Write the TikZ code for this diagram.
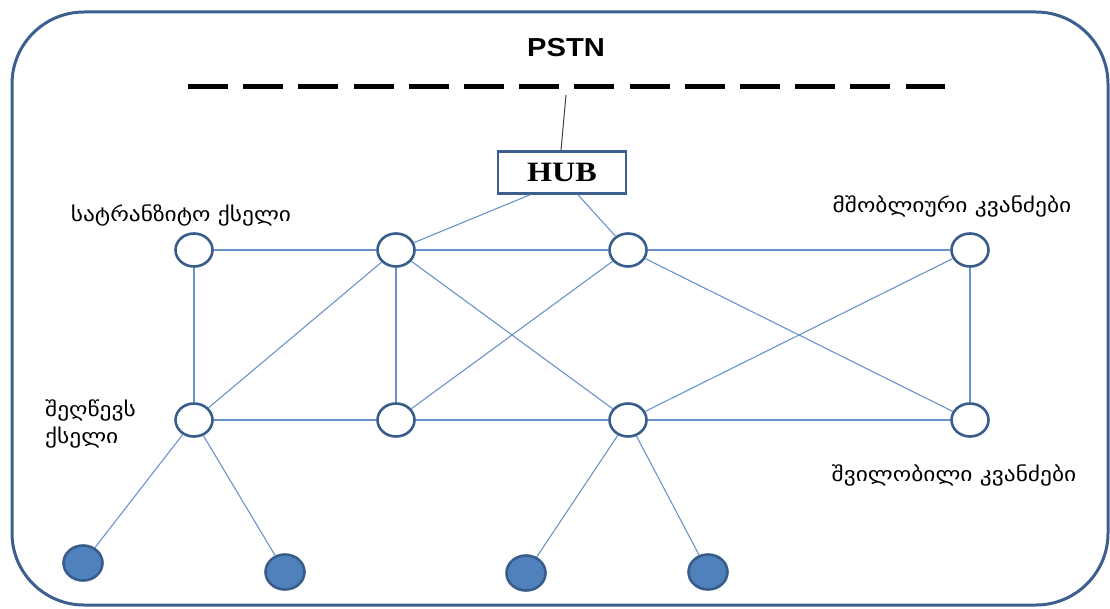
\documentclass[tikz,border=0pt]{standalone}
\usepackage{fontspec}
\setmainfont{Liberation Serif}
\setsansfont{Liberation Sans}
\newfontfamily\geo{DejaVu Sans}
\usetikzlibrary{shapes.geometric,calc}
\definecolor{frameblue}{HTML}{3D5F8F}
\definecolor{nodeline}{HTML}{385D8A}
\definecolor{nodefill}{HTML}{4F81BD}
\definecolor{linkblue}{HTML}{6A93CC}
\tikzset{
  hollow/.style={ellipse, draw=nodeline, line width=2.6pt, fill=white, minimum width=37pt, minimum height=33pt, inner sep=0pt},
  solid node/.style={ellipse, draw=nodeline, line width=2.6pt, fill=nodefill, minimum width=39pt, minimum height=35pt, inner sep=0pt},
  link/.style={draw=linkblue, line width=1.1pt},
  geolabel/.style={font=\geo\fontsize{20}{28}\selectfont, inner sep=0pt},
}
\newcommand{\geowide}[1]{\scalebox{1.17}[1]{#1}}
\begin{document}
\begin{tikzpicture}[x=1pt,y=-1pt]
\useasboundingbox (0,0) rectangle (1110,609);
% outer frame
\draw[frameblue, line width=3pt, rounded corners=72pt] (12,12) rectangle (1108,605);
% PSTN bus
\node[font=\sffamily\bfseries\fontsize{26}{28}\selectfont, inner sep=0pt] (pstn) at (566,48) {\scalebox{1.12}[1]{PSTN}};
\coordinate (busl) at (188,87);
\coordinate (busr) at (945,87);
\draw[black, line width=5pt, dash pattern=on 40pt off 15.2pt] (busl) -- (busr);
% hub
\node[draw=frameblue, line width=2.6pt, fill=white, minimum width=128pt, minimum height=42pt, inner sep=0pt, font=\bfseries\fontsize{28}{30}\selectfont] (hub) at (562,172.5) {\scalebox{1.15}[1]{HUB}};
\coordinate (tap) at (566,95);
\draw[black!75, line width=1pt] (tap) -- ($(hub.north)+(-1,0)$);
% nodes
\node[hollow] (a1) at (194,250) {};
\node[hollow] (a2) at (396,250) {};
\node[hollow] (a3) at (628,250) {};
\node[hollow] (a4) at (970,250) {};
\node[hollow] (b1) at (194,420) {};
\node[hollow] (b2) at (396,420) {};
\node[hollow] (b3) at (628,420) {};
\node[hollow] (b4) at (970,420) {};
\node[solid node] (c1) at (83,563) {};
\node[solid node] (c2) at (285,572) {};
\node[solid node] (c3) at (526,573) {};
\node[solid node] (c4) at (708,572) {};
% links
\draw[link] ($(hub.south)+(-32,0)$) -- (a2);
\draw[link] ($(hub.south)+(16,0)$) -- (a3);
\draw[link] (a1) -- (a2);
\draw[link] (a2) -- (a3);
\draw[link] (a3) -- (a4);
\draw[link] (b1) -- (b2);
\draw[link] (b2) -- (b3);
\draw[link] (b3) -- (b4);
\draw[link] (a1) -- (b1);
\draw[link] (a2) -- (b2);
\draw[link] (a4) -- (b4);
\draw[link] (a2) -- (b1);
\draw[link] (a2) -- (b3);
\draw[link] (a3) -- (b2);
\draw[link] (a3) -- (b4);
\draw[link] (a4) -- (b3);
\draw[link] (b1) -- (c1);
\draw[link] (b1) -- (c2);
\draw[link] (b3) -- (c3);
\draw[link] (b3) -- (c4);
% labels
\node[geolabel] (lt) at (181,215) {\geowide{სატრანზიტო ქსელი}};
\node[geolabel] (lp) at (952,206) {\geowide{მშობლიური კვანძები}};
\node[geolabel, anchor=west] (la1) at (45,410) {\geowide{შეღწევს}};
\node[geolabel, anchor=west] (la2) at (45,438) {\geowide{ქსელი}};
\node[geolabel] (lc) at (954,475) {\geowide{შვილობილი კვანძები}};
\end{tikzpicture}
\end{document}
